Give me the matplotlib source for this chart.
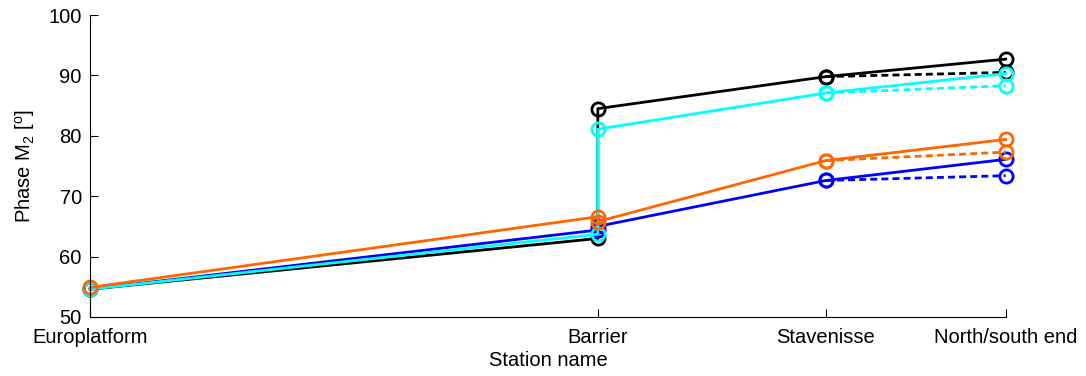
import matplotlib.pyplot as plt

plt.rcParams['font.family'] = ['Liberation Sans', 'DejaVu Sans']
plt.rcParams['mathtext.default'] = 'regular'

# station positions along the estuary (km) and names
stations = ["Europlatform", "Barrier", "Stavenisse", "North/south end"]
pos = [0.0, 30.5, 44.2, 55.0]

# M2 phase per scenario: seaward of barrier, landward of barrier, Stavenisse, end
black = [54.6, 63.0, 84.5, 89.8, 92.7]
cyan = [54.6, 63.7, 81.1, 87.1, 90.3]
blue = [54.6, 64.4, 65.0, 72.6, 76.1]
orange = [54.9, 66.6, 65.8, 75.9, 79.4]

# alternative end values (dashed)
black_alt = [89.8, 90.5]
cyan_alt = [87.1, 88.3]
blue_alt = [72.6, 73.4]
orange_alt = [75.9, 77.3]

xs = [pos[0], pos[1], pos[1], pos[2], pos[3]]

fig = plt.figure(figsize=(10.86, 3.76), dpi=100)
ax = fig.add_axes([0.083, 0.157, 0.843, 0.803])

series = [(black, black_alt, "black"),
          (blue, blue_alt, "#0000ff"),
          (cyan, cyan_alt, "#00ffff"),
          (orange, orange_alt, "#ff6600")]

for vals, alt, col in series:
    ax.plot(pos[2:], alt, color=col, lw=2, dashes=(2.5, 1.5), marker="o",
            ms=9.5, mfc="none", mew=2, clip_on=False)
    ax.plot(xs, vals, "-", color=col, lw=2, marker="o", ms=9.5,
            mfc="none", mew=2, clip_on=False)

ax.set_xlim(pos[0], pos[-1])
ax.set_ylim(50, 100)
ax.set_xticks(pos)
ax.set_xticklabels(stations)
ax.set_yticks(range(50, 101, 10))
ax.tick_params(direction="in", labelsize=14.5, length=6)
ax.tick_params(axis="x", pad=8)
ax.tick_params(axis="y", pad=6)
ax.spines["top"].set_visible(False)
ax.spines["right"].set_visible(False)
ax.set_xlabel("Station name", fontsize=14.5, labelpad=3)
ax.set_ylabel("Phase M$_2$ [$^o$]", fontsize=14.5, labelpad=8)

fig.savefig("out.png", dpi=100)
